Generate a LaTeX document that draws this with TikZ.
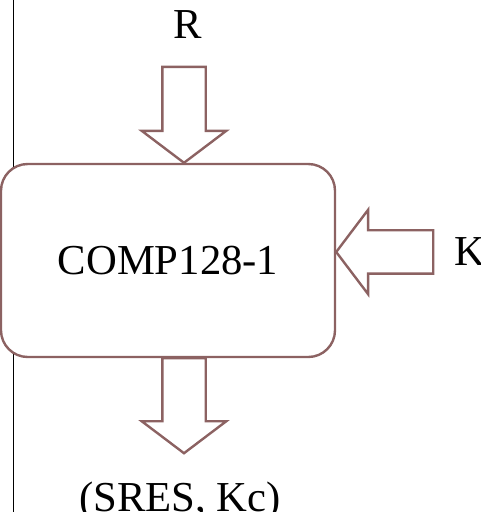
\documentclass[tikz,border=0pt]{standalone}
\usepackage{fontspec}
\setmainfont{Liberation Serif}
\usetikzlibrary{positioning,shapes.arrows}
\definecolor{boxline}{RGB}{140,98,98}

\begin{document}
\begin{tikzpicture}[
  x=0.75pt, y=-0.75pt,
  font=\fontsize{32}{38}\selectfont,
  block/.style={rectangle, draw=boxline, fill=white, line width=1.8pt, rounded corners=20pt, minimum width=250.5pt, minimum height=144.75pt, inner sep=0pt},
  fatarrow/.style={single arrow, draw=boxline, fill=white, line width=1.8pt, minimum height=#1, inner xsep=0pt, inner ysep=15.375pt, outer sep=0pt, single arrow head extend=15.375pt, single arrow tip angle=105.8},
  txt/.style={inner sep=0pt}
]
\useasboundingbox (0,0) rectangle (481,512);

% margin rule behind the box
\coordinate (ruletop) at (13.5,0);
\coordinate (rulebot) at (13.5,512);
\draw[line width=0.8pt] (ruletop) -- (rulebot);

\node[block] (comp) at (168,260.5) {COMP128-1};

\node[fatarrow=72pt, rotate=-90, anchor=tip] (rin) at ([xshift=12pt]comp.north) {};
\node[fatarrow=72.75pt, rotate=180, anchor=tip] (kin) at ([yshift=6.4pt]comp.east) {};
\node[fatarrow=71.25pt, rotate=-90, anchor=tail] (out) at ([xshift=12pt]comp.south) {};

\node[txt, anchor=base] (rlab) at ([xshift=3pt, yshift=21pt]rin.tail) {R};
\node[txt, anchor=west] (klab) at ([xshift=15.75pt]kin.tail) {K};
\node[txt, anchor=base] (outlab) at ([xshift=-3pt, yshift=-43.5pt]out.tip) {(SRES, Kc)};
\end{tikzpicture}
\end{document}
